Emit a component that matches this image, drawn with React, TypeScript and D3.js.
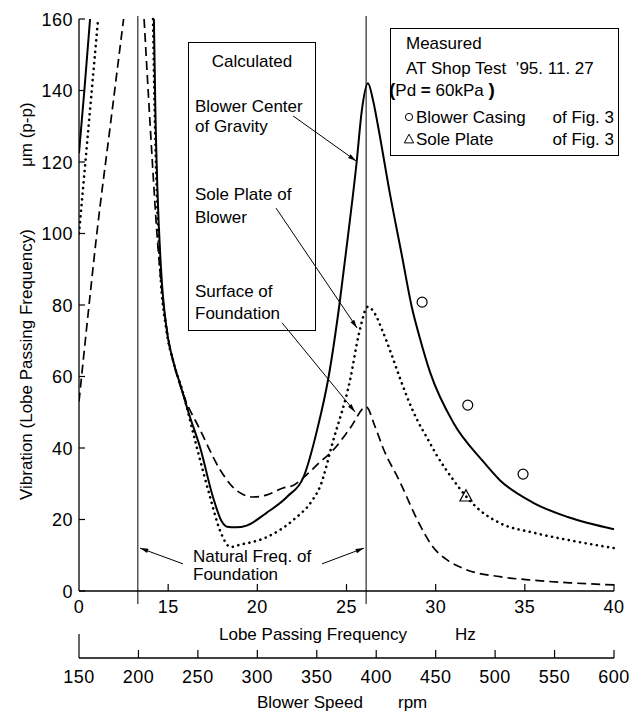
import React from "react";
import * as d3 from "d3";

// lobe passing frequency (Hz) vs vibration (um p-p); null = curve leaves the top of the plot
const blowerCog: [number, number | null][] = [
  [10, 122.5], [10.3, 140], [10.62, 160], [12, null],
  [14.2, 160], [14.28, 135], [14.4, 112], [14.6, 90], [14.95, 72], [15.3, 64], [15.66, 58],
  [16.2, 49], [16.8, 40], [17.5, 26.5], [18.0, 19.5], [18.3, 18], [18.8, 17.8], [19.4, 18.3],
  [20.5, 21.8], [21.7, 26.5], [22.6, 32], [23.35, 45], [24.0, 60], [24.6, 80], [25.1, 100],
  [25.57, 120], [25.85, 134], [26.2, 142], [26.5, 137], [26.77, 130], [27.44, 111], [28.1, 94],
  [28.68, 79], [29.1, 71], [29.7, 61], [31, 47], [32.6, 36.6], [33.6, 31], [35.5, 24.6],
  [37.4, 20.7], [40, 17.3],
];

const solePlate: [number, number | null][] = [
  [10, 100], [10.5, 128], [11.07, 160], [12, null],
  [14.15, 160], [14.24, 135], [14.36, 112], [14.55, 90], [14.9, 73], [15.3, 64], [15.8, 56],
  [16.6, 40.3], [17.35, 26.3], [17.9, 17], [18.5, 12.3], [19.0, 12.9], [20.5, 15], [22.0, 19.8],
  [23.1, 25.5], [23.5, 29], [24.25, 42], [25.2, 59], [25.7, 72], [26.2, 79.5], [26.6, 77.5],
  [27.0, 73], [27.5, 66.5], [28, 59.5], [28.5, 53], [29, 47.5], [29.5, 43], [30, 38.5],
  [31, 31], [31.7, 26.5], [32.5, 22.5], [33.6, 19], [35.5, 16.3], [37.4, 14.3], [40, 12],
];

const foundation: [number, number | null][] = [
  [10, 53], [10.5, 77], [11, 100], [11.75, 130], [12.5, 160], [13, null],
  [13.65, 160], [13.9, 138], [14.15, 117], [14.37, 100], [14.65, 84], [15.0, 71], [15.4, 62],
  [15.85, 55], [16.8, 45], [17.9, 34], [18.64, 29], [19.2, 27], [19.76, 26.3], [20.54, 26.9],
  [21.44, 28.8], [22.0, 29.5], [22.56, 31.6], [23.5, 36], [24.25, 39.4], [25.2, 45.5],
  [26.1, 51.5], [26.6, 46], [27.05, 40], [28, 30.5], [28.96, 20], [29.85, 12.3], [30.7, 8.5],
  [31.7, 6], [33.6, 4], [35.5, 3], [37.5, 2.3], [40, 1.7],
];

const casingMeasured: [number, number][] = [[29.24, 80.8], [31.8, 52], [34.9, 32.7]];
const soleMeasured: [number, number][] = [[31.7, 26.4]];

const naturalFreqs = [13.3, 26.1];

const hzTicks = [10, 15, 20, 25, 30, 35, 40];
const hzTickLabels = ["0", "15", "20", "25", "30", "35", "40"];
const rpmTicks = [150, 200, 250, 300, 350, 400, 450, 500, 550, 600];
const yTicks = [0, 20, 40, 60, 80, 100, 120, 140, 160];

// annotation arrows [from, to] in data units
const arrows: [number, number, number, number][] = [
  [22.0, 132.9, 25.54, 120.3],
  [21.05, 107.1, 25.59, 73.6],
  [21.39, 75.0, 25.48, 50.1],
  [15.83, 7.6, 13.42, 12.0],
  [23.63, 7.6, 25.98, 12.0],
];

const font = "'Liberation Sans', Arial, Helvetica, sans-serif";

export default function App() {
  const width = 637;
  const height = 713;
  const x = d3.scaleLinear().domain([10, 40]).range([79, 614]);
  const y = d3.scaleLinear().domain([0, 160]).range([591, 19]);
  const rpm = d3.scaleLinear().domain([150, 600]).range([79, 614]);

  const line = d3
    .line<[number, number | null]>()
    .defined((d) => d[1] !== null)
    .x((d) => x(d[0]))
    .y((d) => y(d[1] as number))
    .curve(d3.curveMonotoneX);

  const axisY = 658;
  const tri = (cx: number, cy: number, s: number) =>
    `M${cx},${cy - s * 0.62}L${cx + s * 0.55},${cy + s * 0.4}L${cx - s * 0.55},${cy + s * 0.4}Z`;

  return (
    <svg
      width={width}
      height={height}
      style={{ position: "absolute", left: 0, top: 0, background: "#fff" }}
      fontFamily={font}
      fill="#000"
    >
      <defs>
        <marker id="ah" viewBox="0 0 10 6" refX="10" refY="3" markerWidth="10" markerHeight="5"
          markerUnits="userSpaceOnUse" orient="auto">
          <path d="M0,0.3L10,3L0,5.7Z" fill="#000" />
        </marker>
        <clipPath id="plot">
          <rect x={79} y={17} width={540} height={576} />
        </clipPath>
      </defs>

      {/* natural frequency lines */}
      {naturalFreqs.map((f) => (
        <line key={f} x1={x(f)} x2={x(f)} y1={16} y2={604} stroke="#000" strokeWidth={1} />
      ))}

      {/* curves */}
      <g clipPath="url(#plot)" fill="none" stroke="#000">
        <path d={line(blowerCog) || ""} strokeWidth={2} />
        <path d={line(solePlate) || ""} strokeWidth={2.6} strokeDasharray="0.1 5.6" strokeLinecap="round" />
        <path d={line(foundation) || ""} strokeWidth={1.7} strokeDasharray="9 5" />
      </g>

      {/* measured points */}
      {casingMeasured.map((d, i) => (
        <circle key={i} cx={x(d[0])} cy={y(d[1])} r={5} fill="none" stroke="#000" strokeWidth={1.2} />
      ))}
      {soleMeasured.map((d, i) => (
        <path key={i} d={tri(x(d[0]), y(d[1]), 11)} fill="none" stroke="#000" strokeWidth={1.2} />
      ))}

      {/* y axis */}
      <line x1={79} x2={79} y1={y(160)} y2={y(0)} stroke="#000" strokeWidth={1.3} />
      {yTicks.map((t) => (
        <g key={t}>
          <line x1={79} x2={85} y1={y(t)} y2={y(t)} stroke="#000" strokeWidth={1.2} />
          <text x={73} y={y(t) + 6.5} textAnchor="end" fontSize={18} letterSpacing={0.5}>{t}</text>
        </g>
      ))}

      {/* frequency axis */}
      <line x1={x(10)} x2={x(40)} y1={y(0)} y2={y(0)} stroke="#000" strokeWidth={1.5} />
      {hzTicks.map((t, i) => (
        <g key={t}>
          {i > 0 && <line x1={x(t)} x2={x(t)} y1={y(0)} y2={y(0) - 7} stroke="#000" strokeWidth={1.2} />}
          <text x={x(t)} y={613} textAnchor="middle" fontSize={18} letterSpacing={0.5}>{hzTickLabels[i]}</text>
        </g>
      ))}
      <text x={219} y={640} fontSize={17}>Lobe Passing Frequency</text>
      <text x={455} y={640} fontSize={17}>Hz</text>

      {/* blower speed axis */}
      <line x1={rpm(150)} x2={rpm(600)} y1={axisY} y2={axisY} stroke="#000" strokeWidth={1.3} />
      {rpmTicks.map((t, i) => (
        <g key={t}>
          <line x1={rpm(t)} x2={rpm(t)} y1={axisY} y2={i === 0 ? axisY - 24 : axisY - 8} stroke="#000" strokeWidth={1.2} />
          <text x={rpm(t)} y={683} textAnchor="middle" fontSize={18} letterSpacing={0.5}>{t}</text>
        </g>
      ))}
      <text x={257} y={708} fontSize={17}>Blower Speed</text>
      <text x={398} y={708} fontSize={17}>rpm</text>

      {/* y title */}
      <text transform="translate(32,500) rotate(-90)" fontSize={17}>Vibration (Lobe Passing Frequency)</text>
      <text transform="translate(32,167) rotate(-90)" fontSize={17}>μm (p-p)</text>

      {/* calculated box */}
      <rect x={188.5} y={42.5} width={127} height={288} fill="#fff" stroke="#000" strokeWidth={1} />
      <text x={252} y={67} textAnchor="middle" fontSize={17}>Calculated</text>
      <text x={195} y={112} fontSize={17}>Blower Center</text>
      <text x={195} y={132} fontSize={17}>of Gravity</text>
      <text x={195} y={200} fontSize={17}>Sole Plate of</text>
      <text x={195} y={223} fontSize={17}>Blower</text>
      <text x={195} y={297} fontSize={17}>Surface of</text>
      <text x={195} y={319} fontSize={17}>Foundation</text>

      {/* measured box */}
      <rect x={390.5} y={28.5} width={228} height={127} fill="#fff" stroke="#000" strokeWidth={1} />
      <text x={406} y={49} fontSize={17}>Measured</text>
      <text x={406} y={74} fontSize={17}>{"AT Shop Test\u00a0\u00a0\u201995. 11. 27"}</text>
      <text x={389} y={96} fontSize={17}>
        <tspan fontWeight="bold" fontSize={19}>(</tspan>
        <tspan>{"Pd\u00a0"}</tspan>
        <tspan fontWeight="bold">=</tspan>
        <tspan>{"\u00a060kPa\u00a0"}</tspan>
        <tspan fontWeight="bold" fontSize={19}>)</tspan>
      </text>
      <circle cx={409} cy={117} r={3.6} fill="none" stroke="#000" strokeWidth={1} />
      <text x={416} y={123} fontSize={17}>Blower Casing</text>
      <text x={614} y={123} fontSize={17} textAnchor="end">of Fig. 3</text>
      <path d={tri(409, 139.5, 8.5)} fill="none" stroke="#000" strokeWidth={1} />
      <text x={416} y={145} fontSize={17}>Sole Plate</text>
      <text x={614} y={145} fontSize={17} textAnchor="end">of Fig. 3</text>

      {/* natural frequency label */}
      <text x={193} y={562} fontSize={17}>Natural Freq. of</text>
      <text x={193} y={580} fontSize={17}>Foundation</text>

      {/* arrows */}
      {arrows.map((a, i) => (
        <line key={i} x1={x(a[0])} y1={y(a[1])} x2={x(a[2])} y2={y(a[3])} stroke="#000" strokeWidth={1} markerEnd="url(#ah)" />
      ))}
    </svg>
  );
}
